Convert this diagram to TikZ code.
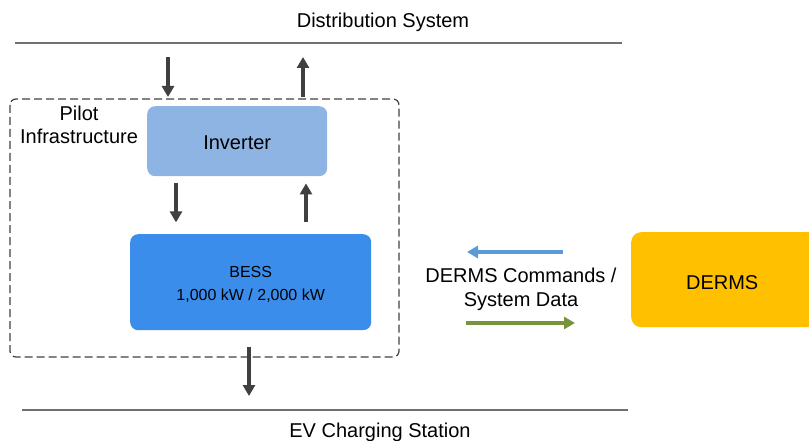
\documentclass[tikz,border=0pt]{standalone}
\usepackage{fontspec}
\setmainfont{Liberation Sans}
\usetikzlibrary{arrows.meta}
\definecolor{busgray}{HTML}{707070}
\definecolor{arrowgray}{HTML}{404040}
\definecolor{invblue}{HTML}{8EB4E3}
\definecolor{bessblue}{HTML}{3B8DEC}
\definecolor{dermsgold}{HTML}{FFC000}
\definecolor{cmdblue}{HTML}{5B9BD5}
\definecolor{datagreen}{HTML}{77933C}
\tikzset{
  bus/.style={draw=busgray, line width=2pt},
  label20/.style={font=\fontsize{20}{24}\selectfont, inner sep=0pt, align=center},
  unitbox/.style={rounded corners=8pt, inner sep=0pt, anchor=north west},
  flow/.style={draw=arrowgray, line width=3.5pt, -{Triangle[width=12pt,length=11pt]}},
  msg/.style={line width=3.5pt, -{Triangle[width=12pt,length=11pt]}},
}
\begin{document}
\begin{tikzpicture}[x=1pt,y=1pt]
\useasboundingbox (0,0) rectangle (809,440);
% buses
\coordinate (topL) at (15,397);
\coordinate (topR) at (622,397);
\draw[bus] (topL) -- (topR);
\node[label20] (dist) at (383,418) {Distribution System};
\coordinate (botL) at (22,30);
\coordinate (botR) at (628,30);
\draw[bus] (botL) -- (botR);
\node[label20] (ev) at (380,8) {EV Charging Station};
% pilot infrastructure boundary
\draw[arrowgray, line width=1.2pt, dash pattern=on 8pt off 4pt, rounded corners=6pt]
  (10,341) rectangle (399,83);
\node[label20] (pilot) at (79,315) {Pilot\\[-1pt]Infrastructure};
% equipment
\node[unitbox, fill=invblue, minimum width=180pt, minimum height=70pt] (inv) at (147,334) {};
\node[label20] at ([yshift=-2pt]inv.center) {Inverter};
\node[unitbox, fill=bessblue, minimum width=241pt, minimum height=96pt] (bess) at (130,206) {};
\node[font=\fontsize{16}{23}\selectfont, align=center, inner sep=0pt] at ([yshift=-2pt]bess.center) {BESS\\1,000 kW / 2,000 kW};
\node[unitbox, fill=dermsgold, rounded corners=10pt, minimum width=188pt, minimum height=95pt] (derms) at (631,208) {};
\node[label20] at ([xshift=-3pt,yshift=-3pt]derms.center) {DERMS};
% power flows
\coordinate (gin) at (168,383);
\coordinate (gout) at (303,343);
\draw[flow] (gin) -- (168,343);
\draw[flow] (gout) -- (303,383);
\draw[flow] (inv.south west) ++(29,-7) -- ++(0,-39);
\draw[flow] (inv.south west) ++(159,-46) -- ++(0,39);
\coordinate (evin) at (249,44);
\draw[flow] (249,93) -- (evin);
% communication
\node[label20] (comm) at (521,151) {DERMS Commands /\\System Data};
\draw[msg, draw=cmdblue] (563,188) -- (467,188);
\draw[msg, draw=datagreen] (466,117) -- (575,117);
\end{tikzpicture}
\end{document}
